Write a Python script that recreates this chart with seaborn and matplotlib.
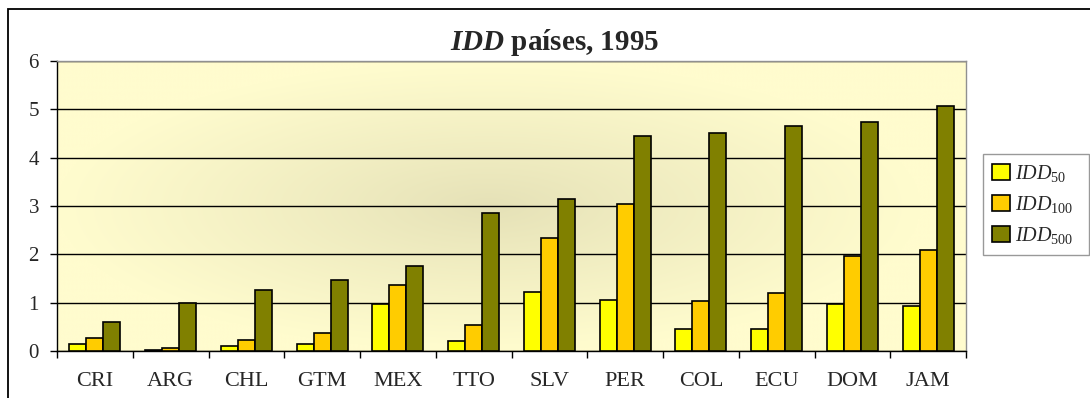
import numpy as np
import pandas as pd
import matplotlib
matplotlib.use("Agg")
import matplotlib.pyplot as plt
import seaborn as sns
from matplotlib.patches import Rectangle, Patch

# Country codes and IDD indices (1995)
paises = ["CRI", "ARG", "CHL", "GTM", "MEX", "TTO", "SLV", "PER", "COL", "ECU", "DOM", "JAM"]
idd_50 = [0.14, 0.03, 0.10, 0.14, 0.97, 0.20, 1.22, 1.06, 0.46, 0.46, 0.97, 0.93]
idd_100 = [0.26, 0.07, 0.23, 0.37, 1.36, 0.53, 2.33, 3.05, 1.03, 1.20, 1.96, 2.09]
idd_500 = [0.59, 1.00, 1.26, 1.46, 1.75, 2.85, 3.15, 4.45, 4.51, 4.65, 4.74, 5.07]
series = ["IDD50", "IDD100", "IDD500"]
legend_labels = [r"$\mathit{IDD}_{\mathit{50}}$",
                 r"$\mathit{IDD}_{\mathit{100}}$",
                 r"$\mathit{IDD}_{\mathit{500}}$"]
y_ticks = [0, 1, 2, 3, 4, 5, 6]
titulo = r"$\mathbfit{IDD}$ países, 1995"

colores = ["#FFFF00", "#FFCC00", "#808000"]

sns.set_theme(style="white")
plt.rcParams["font.family"] = ["Liberation Serif", "DejaVu Serif"]
plt.rcParams["mathtext.fontset"] = "custom"
plt.rcParams["mathtext.rm"] = "Liberation Serif"
plt.rcParams["mathtext.it"] = "Liberation Serif:italic"
plt.rcParams["mathtext.bf"] = "Liberation Serif:bold"
plt.rcParams["mathtext.bfit"] = "Liberation Serif:italic:bold"

df = pd.DataFrame({
    "pais": paises * 3,
    "serie": np.repeat(series, len(paises)),
    "valor": idd_50 + idd_100 + idd_500,
})

fig = plt.figure(figsize=(10.9, 3.98), dpi=100)
ax = fig.add_axes([57 / 1090, 47 / 398, 909 / 1090, 290 / 398])

sns.barplot(data=df, x="pais", y="valor", hue="serie", palette=colores,
            saturation=1, width=0.67, edgecolor="black", linewidth=1.2,
            errorbar=None, legend=False, ax=ax, zorder=3)

# soft centred gradient behind the bars
ny, nx = 300, 600
yy, xx = np.mgrid[-1:1:ny * 1j, -1:1:nx * 1j]
d = np.clip(np.sqrt(((xx + 0.05) / 0.95) ** 2 + (yy / 1.0) ** 2), 0, 1)
centro = np.array([229, 225, 183]) / 255
borde = np.array([255, 252, 206]) / 255
img = centro[None, None, :] + (borde - centro)[None, None, :] * d[..., None] ** 0.9
ax.imshow(img, extent=(-0.5, len(paises) - 0.5, 0, 6), aspect="auto",
          zorder=0, interpolation="bilinear")
ax.set_xlim(-0.5, len(paises) - 0.5)
ax.set_ylim(0, 6)

ax.set_axisbelow(True)
ax.yaxis.grid(True, color="black", linewidth=1.0)
ax.xaxis.grid(False)
ax.set_yticks(y_ticks)
ax.set_xlabel("")
ax.set_ylabel("")

for s in ["left", "bottom"]:
    ax.spines[s].set_color("black")
    ax.spines[s].set_linewidth(1.0)
for s in ["top", "right"]:
    ax.spines[s].set_color("#909090")
    ax.spines[s].set_linewidth(1.0)

ax.set_xticks(np.arange(-0.5, len(paises)), minor=True)
ax.tick_params(axis="x", which="major", length=0, pad=15, labelsize=16)
ax.tick_params(axis="x", which="minor", direction="out", length=5,
               width=1, color="black", bottom=True)
ax.tick_params(axis="y", which="major", direction="out", length=5, width=1,
               color="black", left=True, pad=8, labelsize=15)

handles = [Patch(facecolor=c, edgecolor="black", linewidth=1.2) for c in colores]
leg = fig.legend(handles, legend_labels, loc="center", mode="expand",
                 bbox_to_anchor=(983 / 1090, 144 / 398, 106 / 1090, 99 / 398),
                 frameon=True, fancybox=False, fontsize=14.5,
                 handlelength=0.9, handleheight=0.9, handletextpad=0.25,
                 labelspacing=0.5, borderpad=0.45, borderaxespad=0)
leg.get_frame().set_edgecolor("#808080")
leg.get_frame().set_linewidth(1.0)

fig.text(555 / 1090, 1 - 43 / 398, titulo, ha="center", va="center",
         fontsize=21, fontweight="bold")

fig.patches.append(Rectangle((8 / 1090, -0.1), 1.2, 1.1 - 8.5 / 398,
                             transform=fig.transFigure, fill=False,
                             edgecolor="black", linewidth=1.3))

fig.savefig("out.png", dpi=100)
